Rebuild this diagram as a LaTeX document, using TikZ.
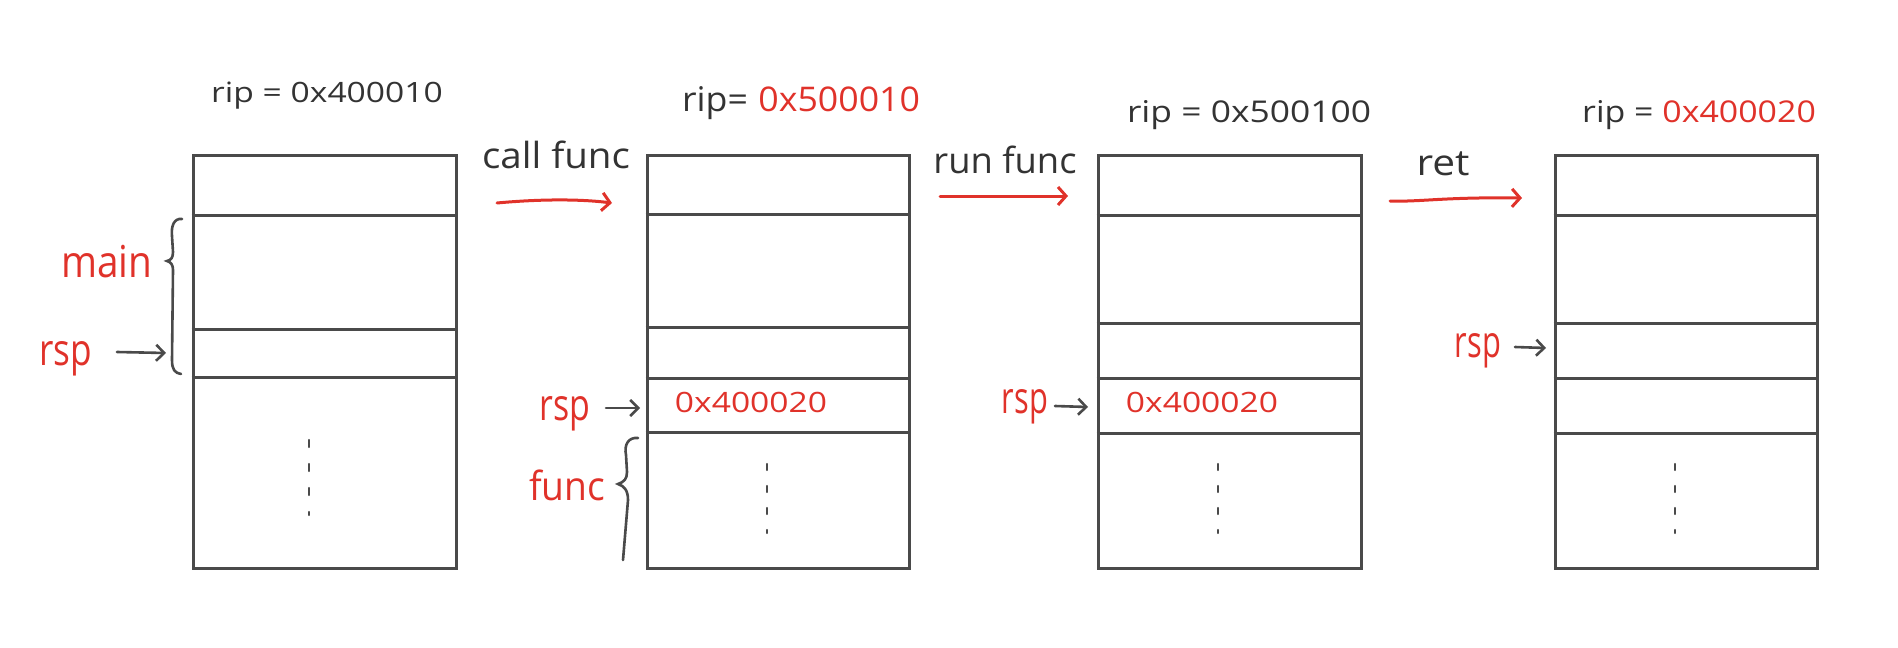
\documentclass[tikz,border=0pt]{standalone}
\usepackage{fontspec}
\setmainfont{Open Sans}
\usepackage{graphicx}
\usetikzlibrary{arrows.meta}
\definecolor{ink}{HTML}{4A4A4A}
\definecolor{txt}{HTML}{333333}
\definecolor{hred}{HTML}{E0322A}
\newcommand{\hs}[2]{\scalebox{#1}[1]{#2}}
\begin{document}
\begin{tikzpicture}[x=0.5pt,y=-0.5pt,
 stackbox/.style={draw=ink, line width=1.5pt, inner sep=0pt, minimum height=206.5pt},
 divider/.style={draw=ink, line width=1.5pt},
 dotsA/.style={draw=ink, line width=1.2pt, line cap=round, dash pattern=on 3.5pt off 8.5pt},
 dotsB/.style={draw=ink, line width=1.2pt, line cap=round, dash pattern=on 3pt off 8pt},
 lbl/.style={anchor=base, inner sep=0pt, text=txt},
 rlbl/.style={anchor=base, inner sep=0pt, text=hred},
 steparrow/.style={draw=hred, line width=1.5pt, line cap=round, -{Straight Barb[length=4pt,width=9pt,line width=1.5pt]}},
 ptrarrow/.style={draw=ink, line width=1.3pt, line cap=round, -{Straight Barb[length=4pt,width=8pt,line width=1.3pt]}},
 bracestyle/.style={draw=ink, line width=1.3pt, line cap=round},
]
\useasboundingbox (0,0) rectangle (1898,647);

% stacks
\node[stackbox, minimum width=131.5pt] (s1) at (324.5,361.5) {};
\node[stackbox, minimum width=131pt] (s2) at (778,361.5) {};
\node[stackbox, minimum width=131.5pt] (s3) at (1229.5,361.5) {};
\node[stackbox, minimum width=131pt] (s4) at (1686,361.5) {};

\foreach \yy in {215,329,377} \draw[divider] (s1.west |- 0,\yy) -- (s1.east |- 0,\yy);
\foreach \yy in {214,327,378,432} \draw[divider] (s2.west |- 0,\yy) -- (s2.east |- 0,\yy);
\foreach \yy in {215,323,378,433} \draw[divider] (s3.west |- 0,\yy) -- (s3.east |- 0,\yy);
\foreach \yy in {215,323,378,433} \draw[divider] (s4.west |- 0,\yy) -- (s4.east |- 0,\yy);

% vertical dots
\draw[dotsA] (309,440) -- (309,515);
\draw[dotsB] (767,464) -- (767,533);
\draw[dotsB] (1218,464) -- (1218,533);
\draw[dotsB] (1675,464) -- (1675,533);

% rip labels
\node[lbl, font=\fontsize{14}{17}\selectfont] (rip1) at (327,103) {\hs{1.2}{rip = 0x400010}};
\node[lbl, font=\fontsize{17}{20}\selectfont] (rip2) at (801,112) {\hs{1.05}{rip=\hspace{5pt}\textcolor{hred}{0x500010}}};
\node[lbl, font=\fontsize{15}{18}\selectfont] (rip3) at (1249,122) {\hs{1.18}{rip = 0x500100}};
\node[lbl, font=\fontsize{15}{18}\selectfont] (rip4) at (1699,122) {\hs{1.13}{rip = \textcolor{hred}{0x400020}}};

% transition labels and arrows
\node[lbl, font=\fontsize{18}{21}\selectfont] (t1) at (556,168) {\hs{1.07}{call func}};
\node[lbl, font=\fontsize{18}{21}\selectfont] (t2) at (1005,173) {\hs{1.01}{run func}};
\node[lbl, font=\fontsize{18}{21}\selectfont] (t3) at (1443,175) {\hs{1.13}{ret}};

\coordinate (a1s) at (497,203); \coordinate (a1e) at (612,203);
\coordinate (a2s) at (940,196); \coordinate (a2e) at (1068,196);
\coordinate (a3s) at (1390,201); \coordinate (a3e) at (1522,198);
\draw[steparrow] (a1s) .. controls (540,199) and (580,199) .. (a1e);
\draw[steparrow] (a2s) -- (a2e);
\draw[steparrow] (a3s) .. controls (1422,202) and (1442,197) .. (a3e);

% values in cells
\node[rlbl, font=\fontsize{14}{17}\selectfont] (v2) at (751,412) {\hs{1.2}{0x400020}};
\node[rlbl, font=\fontsize{14}{17}\selectfont] (v3) at (1202,412) {\hs{1.2}{0x400020}};

% frame labels
\node[rlbl, font=\fontsize{22}{26}\selectfont] (main) at (107,277) {\hs{0.88}{main}};
\node[rlbl, font=\fontsize{20}{24}\selectfont] (func) at (567,500) {\hs{0.93}{func}};

% braces
\draw[bracestyle] (182,219) .. controls (174,218) and (171,226) .. (172,236) -- (173,252)
  .. controls (173,258) and (171,260) .. (167,261) .. controls (171,262) and (173,265) .. (173,270)
  -- (172,360) .. controls (172,370) and (175,373) .. (181,374);
\draw[bracestyle] (638,438) .. controls (628,437) and (624,445) .. (626,455) -- (627,472)
  .. controls (627,479) and (624,482) .. (618,484) .. controls (624,486) and (628,490) .. (628,500)
  -- (623,560);

% rsp pointers
\node[rlbl, font=\fontsize{22}{26}\selectfont] (rsp1) at (66,365) {\hs{0.8}{rsp}};
\node[rlbl, font=\fontsize{22}{26}\selectfont] (rsp2) at (565,420) {\hs{0.77}{rsp}};
\node[rlbl, font=\fontsize{22}{26}\selectfont] (rsp3) at (1025,413) {\hs{0.7}{rsp}};
\node[rlbl, font=\fontsize{22}{26}\selectfont] (rsp4) at (1478,357) {\hs{0.7}{rsp}};

\coordinate (p1s) at (117,352); \coordinate (p1e) at (166,353);
\coordinate (p2s) at (606,408); \coordinate (p2e) at (640,408);
\coordinate (p3s) at (1055,406); \coordinate (p3e) at (1088,407);
\coordinate (p4s) at (1515,347); \coordinate (p4e) at (1546,348);
\draw[ptrarrow] (p1s) -- (p1e);
\draw[ptrarrow] (p2s) -- (p2e);
\draw[ptrarrow] (p3s) -- (p3e);
\draw[ptrarrow] (p4s) -- (p4e);
\end{tikzpicture}
\end{document}
